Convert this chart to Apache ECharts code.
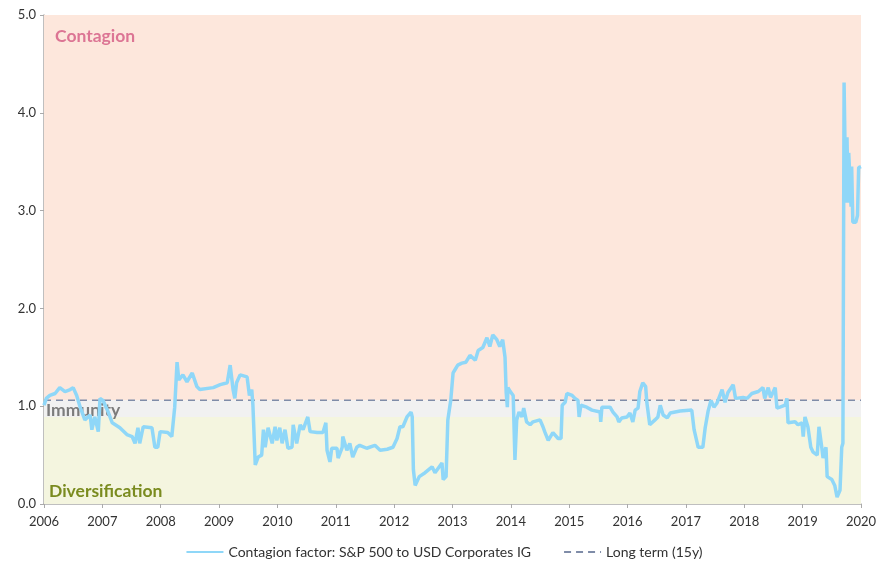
<!DOCTYPE html>
<html>
<head>
<meta charset="utf-8">
<script src="https://cdn.jsdelivr.net/npm/echarts@6/dist/echarts.min.js"></script>
<style>html,body{margin:0;padding:0;background:#fff}#c{width:888px;height:565px}</style>
</head>
<body>
<div id="c"></div>
<script>
const yearTicks = [2006,2007,2008,2009,2010,2011,2012,2013,2014,2015,2016,2017,2018,2019,2020];
const yTicks = [0,1,2,3,4,5];
const longTerm = 1.06;
const bandBounds = [0, 0.89, 1.06, 5];
const bandNames = ['Diversification', 'Immunity', 'Contagion'];
const seriesNames = ['Contagion factor: S&P 500 to USD Corporates IG', 'Long term (15y)'];
const t = [2006.00,2006.04,2006.10,2006.19,2006.27,2006.36,2006.45,2006.50,2006.56,2006.62,2006.70,2006.79,2006.82,2006.87,2006.93,2006.96,2007.01,2007.10,2007.17,2007.30,2007.42,2007.51,2007.56,2007.61,2007.64,2007.70,2007.85,2007.90,2007.95,2007.99,2008.12,2008.19,2008.21,2008.24,2008.28,2008.31,2008.38,2008.45,2008.54,2008.57,2008.62,2008.67,2008.90,2009.02,2009.14,2009.19,2009.22,2009.24,2009.27,2009.30,2009.36,2009.48,2009.52,2009.56,2009.58,2009.62,2009.67,2009.73,2009.76,2009.79,2009.84,2009.91,2009.96,2009.99,2010.04,2010.08,2010.13,2010.18,2010.25,2010.27,2010.33,2010.39,2010.44,2010.52,2010.56,2010.68,2010.78,2010.83,2010.85,2010.90,2010.93,2011.02,2011.04,2011.11,2011.12,2011.19,2011.24,2011.29,2011.36,2011.41,2011.53,2011.67,2011.76,2011.88,2011.98,2012.05,2012.10,2012.15,2012.22,2012.29,2012.31,2012.33,2012.36,2012.39,2012.43,2012.53,2012.65,2012.70,2012.82,2012.84,2012.89,2012.92,2012.97,2013.01,2013.04,2013.09,2013.16,2013.23,2013.30,2013.39,2013.44,2013.52,2013.59,2013.64,2013.69,2013.76,2013.81,2013.86,2013.90,2013.92,2013.94,2013.95,2013.99,2014.02,2014.04,2014.07,2014.10,2014.14,2014.19,2014.22,2014.27,2014.33,2014.38,2014.50,2014.55,2014.58,2014.64,2014.72,2014.81,2014.86,2014.88,2014.93,2014.96,2015.05,2015.10,2015.15,2015.17,2015.20,2015.30,2015.39,2015.53,2015.54,2015.56,2015.70,2015.75,2015.82,2015.85,2015.90,2015.99,2016.04,2016.09,2016.13,2016.18,2016.21,2016.26,2016.31,2016.33,2016.38,2016.47,2016.52,2016.56,2016.61,2016.68,2016.73,2016.90,2017.10,2017.14,2017.21,2017.29,2017.33,2017.38,2017.43,2017.48,2017.53,2017.62,2017.67,2017.72,2017.81,2017.85,2017.98,2018.05,2018.13,2018.24,2018.32,2018.35,2018.41,2018.45,2018.53,2018.56,2018.61,2018.70,2018.73,2018.75,2018.87,2018.92,2018.99,2019.01,2019.04,2019.09,2019.14,2019.18,2019.25,2019.28,2019.33,2019.35,2019.40,2019.42,2019.50,2019.55,2019.59,2019.64,2019.67,2019.69,2019.71,2019.74,2019.76,2019.78,2019.79,2019.83,2019.84,2019.86,2019.91,2019.94,2019.96,2020.00];
const v = [1.01,1.08,1.11,1.13,1.19,1.15,1.17,1.19,1.11,0.99,0.86,0.91,0.76,0.89,0.74,1.08,1.06,0.94,0.83,0.78,0.71,0.69,0.62,0.78,0.62,0.79,0.78,0.58,0.58,0.74,0.73,0.69,0.67,0.99,1.45,1.27,1.32,1.25,1.34,1.32,1.20,1.17,1.19,1.22,1.24,1.42,1.27,1.17,1.08,1.24,1.32,1.30,1.11,1.17,1.01,0.40,0.48,0.50,0.76,0.58,0.78,0.62,0.79,0.65,0.78,0.62,0.76,0.57,0.58,0.81,0.62,0.81,0.76,0.89,0.74,0.73,0.73,0.83,0.55,0.43,0.57,0.57,0.47,0.58,0.69,0.55,0.62,0.48,0.58,0.60,0.57,0.60,0.55,0.56,0.58,0.67,0.79,0.79,0.89,0.94,0.89,0.35,0.19,0.17,0.28,0.32,0.38,0.32,0.42,0.25,0.28,0.86,1.06,1.34,1.37,1.42,1.44,1.45,1.52,1.47,1.57,1.60,1.70,1.61,1.73,1.68,1.61,1.68,1.50,1.14,0.99,1.19,1.15,1.17,1.11,0.45,0.86,0.94,0.89,0.98,0.84,0.81,0.84,0.86,0.79,0.74,0.65,0.73,0.67,0.67,1.01,1.04,1.13,1.11,1.08,1.06,0.89,1.01,0.99,0.96,0.94,0.84,0.99,0.99,0.94,0.89,0.84,0.88,0.89,0.93,0.84,0.96,0.98,1.15,1.24,1.20,1.04,0.81,0.86,0.89,1.01,0.91,0.88,0.93,0.95,0.96,0.76,0.58,0.58,0.78,0.95,1.06,0.99,1.03,1.17,1.04,1.14,1.22,1.08,1.09,1.08,1.13,1.15,1.19,1.08,1.19,1.09,1.19,0.98,0.99,1.01,1.08,0.83,0.84,0.81,0.83,0.69,0.89,0.79,0.58,0.53,0.50,0.79,0.57,0.47,0.58,0.28,0.25,0.19,0.07,0.14,0.58,0.62,4.31,3.08,3.75,3.08,3.59,3.04,3.45,2.88,2.88,2.95,3.44,3.45];

const font = 'Lato, "Noto Sans", sans-serif';
const chart = echarts.init(document.getElementById('c'), null, {renderer: 'canvas'});
const labelBase = {show: true, fontFamily: font, fontWeight: 'bold', fontSize: 17.5, distance: 0};
const x0 = yearTicks[0], x1 = yearTicks[yearTicks.length-1];
chart.setOption({
  animation: false,
  grid: {left: 44, right: 27, top: 15, bottom: 61, containLabel: false},
  legend: {
    bottom: 1, left: 'center', itemWidth: 37, itemHeight: 10, itemGap: 32,
    itemStyle: {opacity: 0},
    textStyle: {fontFamily: font, fontSize: 14, color: '#333'},
    data: seriesNames
  },
  xAxis: {
    type: 'value', min: x0, max: x1, interval: 1,
    axisLine: {lineStyle: {color: '#aaa', width: 1.5}},
    axisTick: {show: true, length: 4, lineStyle: {color: '#aaa'}},
    splitLine: {show: false},
    axisLabel: {fontFamily: font, fontSize: 13, color: '#333', margin: 11,
      formatter: val => yearTicks.includes(val) ? String(val) : ''}
  },
  yAxis: {
    type: 'value', min: yTicks[0], max: yTicks[yTicks.length-1], interval: 1,
    axisLine: {show: true, lineStyle: {color: '#aaa', width: 1.5}},
    axisTick: {show: true, length: 4, lineStyle: {color: '#aaa'}},
    splitLine: {show: false},
    axisLabel: {fontFamily: font, fontSize: 13, color: '#333', margin: 8,
      formatter: val => val.toFixed(1)}
  },
  series: [
    {
      name: seriesNames[0], type: 'line', symbol: 'none', z: 3,
      data: t.map((x, i) => [x, v[i]]),
      lineStyle: {color: '#8fd7f8', width: 3.5},
      itemStyle: {color: '#8fd7f8'},
      markArea: {
        silent: true,
        data: [
          [{name: bandNames[2], coord: [x0, bandBounds[3]], itemStyle: {color: '#fde7dc'},
            label: Object.assign({}, labelBase, {position: 'insideTopLeft', offset: [11, 12], color: '#dc7594'})},
           {coord: [x1, bandBounds[2]]}],
          [{name: bandNames[1], coord: [x0, bandBounds[2]], itemStyle: {color: '#f1f1f1'},
            label: Object.assign({}, labelBase, {position: 'insideLeft', offset: [2, 2], color: '#7c7c7c'})},
           {coord: [x1, bandBounds[1]]}],
          [{name: bandNames[0], coord: [x0, bandBounds[1]], itemStyle: {color: '#f4f5df'},
            label: Object.assign({}, labelBase, {position: 'insideBottomLeft', offset: [5, -4], color: '#7a8b1f'})},
           {coord: [x1, bandBounds[0]]}]
        ]
      }
    },
    {
      name: seriesNames[1], type: 'line', symbol: 'none', z: 2,
      data: [[x0, longTerm], [x1, longTerm]],
      lineStyle: {color: '#7f8ca8', width: 1.5, type: [7, 5]},
      itemStyle: {color: '#7f8ca8'}
    }
  ]
});
</script>
</body>
</html>
